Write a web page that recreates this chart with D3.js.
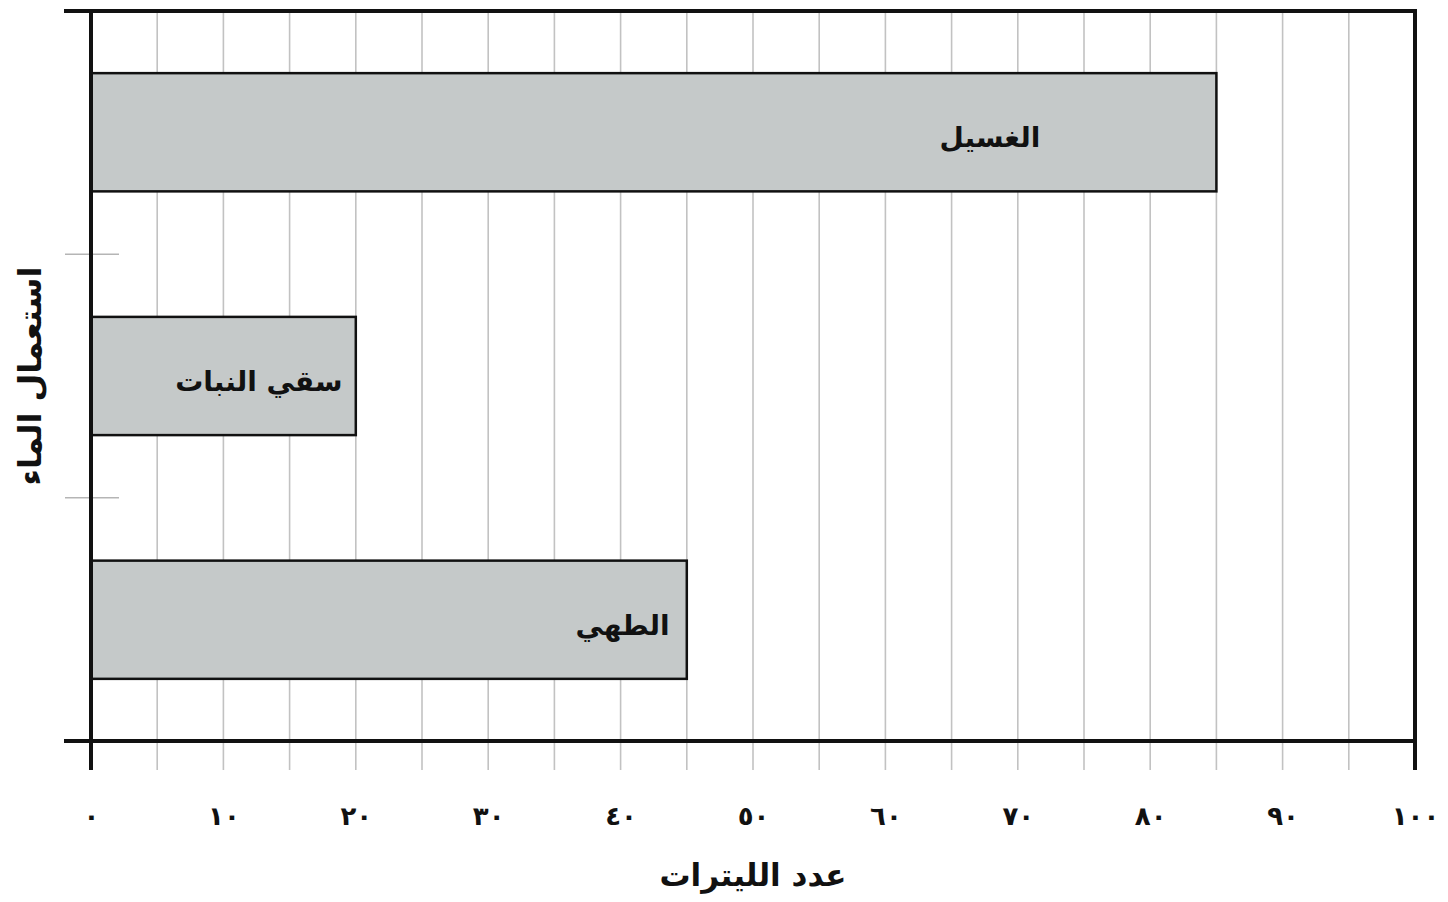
<!DOCTYPE html>
<html>
<head>
<meta charset="utf-8">
<script src="https://cdn.jsdelivr.net/npm/d3@7"></script>
<style>
  body { margin: 0; background: #fff; }
  text { font-family: "DejaVu Sans", sans-serif; font-weight: bold; fill: #111; }
</style>
</head>
<body>
<div id="chart"></div>
<script>
// data
var categories = ["الغسيل", "سقي النبات", "الطهي"];
var litres = [85, 20, 45];
// where the end of each label sits, in litres
var labelEnd = [71.7, 19, 43.7];
var tickValues = [0, 10, 20, 30, 40, 50, 60, 70, 80, 90, 100];
var tickLabels = ["٠", "١٠", "٢٠", "٣٠", "٤٠", "٥٠", "٦٠", "٧٠", "٨٠", "٩٠", "١٠٠"];
var gridValues = d3.range(5, 100, 5);
var xTitle = "عدد الليترات";
var yTitle = "استعمال الماء";

var W = 1448, H = 902;
var margin = {top: 11, right: 33, bottom: 161, left: 91},
    width = W - margin.left - margin.right,
    height = H - margin.top - margin.bottom;

var svg = d3.select("#chart")
  .append("svg")
    .attr("width", W)
    .attr("height", H)
  .append("g")
    .attr("transform", "translate(" + margin.left + "," + margin.top + ")");

var x = d3.scaleLinear()
  .domain([0, 100])
  .range([0, width]);

var y = d3.scaleBand()
  .domain(categories)
  .range([0, height])
  .paddingInner(0.515)
  .paddingOuter(0.255);

var yOuter = d3.scaleBand()
  .domain(categories)
  .range([0, height]);

// vertical grid lines, running a bit below the axis like ticks
svg.append("g")
  .selectAll("line")
  .data(gridValues)
  .enter()
  .append("line")
    .attr("x1", function(d) { return x(d); })
    .attr("x2", function(d) { return x(d); })
    .attr("y1", 0)
    .attr("y2", height + 29)
    .attr("stroke", "#c2c2c2")
    .attr("stroke-width", 1.6);

// y category separators
svg.append("g")
  .selectAll("line")
  .data(categories.slice(1))
  .enter()
  .append("line")
    .attr("x1", -26)
    .attr("x2", 28)
    .attr("y1", function(d) { return yOuter(d); })
    .attr("y2", function(d) { return yOuter(d); })
    .attr("stroke", "#b5b5b5")
    .attr("stroke-width", 1.5);

// bars
svg.append("g")
  .selectAll("rect")
  .data(litres)
  .enter()
  .append("rect")
    .attr("x", x(0))
    .attr("y", function(d, i) { return y(categories[i]); })
    .attr("width", function(d) { return x(d) - x(0); })
    .attr("height", y.bandwidth())
    .attr("fill", "#c5c9c9")
    .attr("stroke", "#111")
    .attr("stroke-width", 2.5);

// bar labels
svg.append("g")
  .selectAll("text")
  .data(categories)
  .enter()
  .append("text")
    .attr("x", function(d, i) { return x(labelEnd[i]); })
    .attr("y", function(d) { return y(d) + y.bandwidth() / 2 + 15; })
    .attr("text-anchor", "end")
    .style("font-size", "28px")
    .text(function(d) { return d; });

// frame: top line, left axis, bottom axis, right border
var frame = svg.append("g").attr("stroke", "#111").attr("stroke-linecap", "square");
frame.append("line")
  .attr("x1", -25).attr("x2", width).attr("y1", 0).attr("y2", 0)
  .attr("stroke-width", 4);
frame.append("line")
  .attr("x1", -25).attr("x2", width).attr("y1", height).attr("y2", height)
  .attr("stroke-width", 4);
frame.append("line")
  .attr("x1", x(0)).attr("x2", x(0)).attr("y1", 0).attr("y2", height + 27)
  .attr("stroke-width", 4);
frame.append("line")
  .attr("x1", x(100)).attr("x2", x(100)).attr("y1", 0).attr("y2", height + 27)
  .attr("stroke-width", 4);

// x axis labels (Arabic-Indic digits)
var xAxis = svg.append("g")
  .attr("transform", "translate(0," + height + ")")
  .call(d3.axisBottom(x)
    .tickValues(tickValues)
    .tickSize(0)
    .tickPadding(66)
    .tickFormat(function(d, i) { return tickLabels[i]; }));
xAxis.select(".domain").remove();
xAxis.selectAll("text")
  .attr("fill", "#111")
  .style("font-family", "\"DejaVu Sans\", sans-serif")
  .style("font-weight", "bold")
  .style("font-size", "26px");

// axis titles
svg.append("text")
  .attr("text-anchor", "middle")
  .attr("x", x(50))
  .attr("y", height + 145)
  .style("font-size", "31px")
  .text(xTitle);

svg.append("text")
  .attr("text-anchor", "middle")
  .attr("transform", "translate(" + (-50) + "," + (yOuter(categories[1]) + yOuter.bandwidth() / 2) + ") rotate(-90)")
  .style("font-size", "32px")
  .text(yTitle);
</script>
</body>
</html>
